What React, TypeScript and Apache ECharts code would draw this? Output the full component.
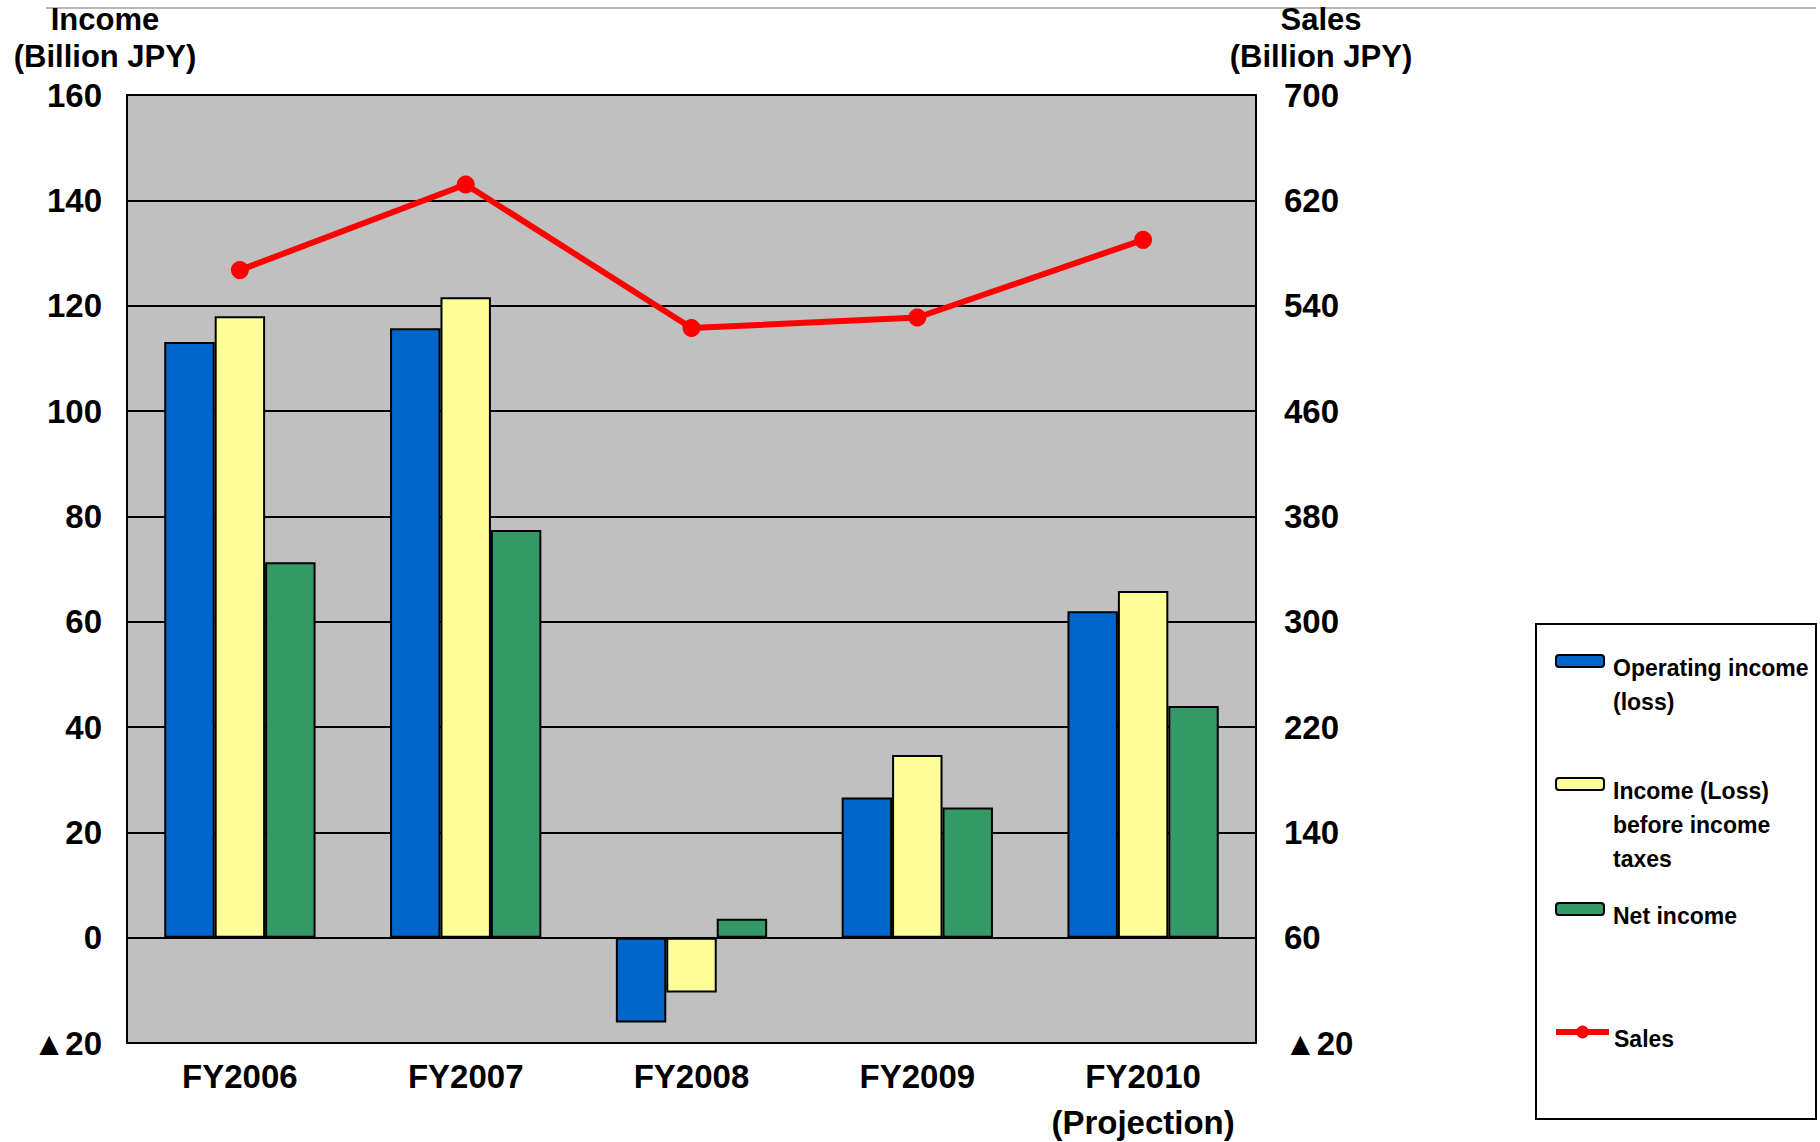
import React, { useEffect, useRef } from "react";
import * as echarts from "echarts";

const categories = ["FY2006", "FY2007", "FY2008", "FY2009", "FY2010\n(Projection)"];
const operatingIncome = [113.1, 115.7, -16.1, 26.6, 62.0];
const incomeBeforeTaxes = [118.0, 121.6, -10.4, 34.7, 65.8];
const netIncome = [71.3, 77.4, 3.6, 24.7, 44.0];
const sales = [567, 632, 523, 531, 590];
const salesTicks = [-20, 60, 140, 220, 300, 380, 460, 540, 620, 700];

const seriesNames = [
  "Operating income\n(loss)",
  "Income (Loss)\nbefore income\ntaxes",
  "Net income",
  "Sales",
];

const FONT = "'Liberation Sans', Arial, sans-serif";
const fmtNeg = (v: number) => (v < 0 ? "\u25B2" + Math.abs(v) : String(v));
const LH = 34;
const OFF = 7;

export default function App() {
  const ref = useRef<HTMLDivElement>(null);
  useEffect(() => {
    if (!ref.current) return;
    const chart = echarts.init(ref.current, undefined, { renderer: "svg" });
    const legendCenters = [661, 784, 909, 1032];
    const legends = seriesNames.map((name, i) => {
      const lines = name.split("\n");
      const n = lines.length;
      const gap = 2 * OFF + (n - 1) * LH;
      const isLine = i === 3;
      return {
        data: [name],
        orient: "vertical" as const,
        left: isLine ? 1553 : 1555,
        top: legendCenters[i] - (gap + n * LH) / 2,
        padding: 0,
        itemWidth: isLine ? 53 : 48,
        itemHeight: isLine ? 16 : 12,
        selectedMode: false,
        formatter: () => "{g| }\n" + lines.map((l) => "{t|" + l + "}").join("\n"),
        textStyle: {
          fontFamily: FONT,
          fontSize: 23,
          fontWeight: "bold" as const,
          color: "#000",
          padding: [0, 0, 0, isLine ? 0 : 4],
          rich: {
            g: { fontSize: 1, lineHeight: gap, height: gap },
            t: {
              fontFamily: FONT,
              fontSize: 23,
              fontWeight: "bold",
              color: "#000",
              lineHeight: LH,
              height: LH,
            },
          },
        },
        lineStyle: isLine ? { width: 6, color: "#FF0000" } : undefined,
        z: 10,
      };
    });
    const barStyle = (color: string) => ({
      color,
      borderColor: "#000",
      borderWidth: 2,
    });
    chart.setOption({
      animation: false,
      backgroundColor: "#fff",
      grid: {
        left: 127,
        top: 95,
        width: 1129,
        height: 948,
        show: true,
        backgroundColor: "#C0C0C0",
        borderColor: "#909090",
        borderWidth: 2,
        containLabel: false,
        outerBoundsMode: "none",
      },
      legend: legends,
      graphic: [
        {
          type: "line",
          shape: { x1: 46, y1: 8, x2: 1816, y2: 8 },
          style: { stroke: "#a0a0a0", lineWidth: 1.5 },
        },
        {
          type: "rect",
          z: 0,
          shape: { x: 1536, y: 624, width: 280, height: 495 },
          style: { fill: "#fff", stroke: "#000", lineWidth: 2 },
        },
      ],
      xAxis: {
        type: "category",
        data: categories,
        axisLine: { show: false, onZero: false },
        axisTick: { show: false },
        axisLabel: {
          interval: 0,
          fontFamily: FONT,
          fontSize: 33,
          fontWeight: "bold",
          color: "#000",
          lineHeight: 46,
          margin: 10,
        },
      },
      yAxis: [
        {
          type: "value",
          min: -20,
          max: 160,
          interval: 20,
          name: "Income\n(Billion JPY)",
          nameLocation: "end",
          nameGap: 20,
          nameTextStyle: {
            fontFamily: FONT,
            fontSize: 31,
            fontWeight: "bold",
            color: "#000",
            lineHeight: 37,
            align: "center",
            padding: [0, 44, 0, 0],
          },
          axisLine: { show: true, lineStyle: { color: "#000", width: 2 } },
          axisTick: { show: true, inside: true, length: 7, lineStyle: { color: "#000", width: 2 } },
          splitLine: { show: true, lineStyle: { color: "#000", width: 2 } },
          axisLabel: {
            fontFamily: FONT,
            fontSize: 33,
            fontWeight: "bold",
            color: "#000",
            margin: 25,
            formatter: fmtNeg,
          },
        },
        {
          type: "value",
          min: -20,
          max: 700,
          position: "right",
          name: "Sales\n(Billion JPY)",
          nameLocation: "end",
          nameGap: 20,
          nameTextStyle: {
            fontFamily: FONT,
            fontSize: 31,
            fontWeight: "bold",
            color: "#000",
            lineHeight: 37,
            align: "center",
            padding: [0, 0, 0, 130],
          },
          axisLine: { show: true, lineStyle: { color: "#000", width: 2 } },
          axisTick: {
            show: true,
            inside: true,
            length: 7,
            customValues: salesTicks,
            lineStyle: { color: "#000", width: 2 },
          },
          splitLine: { show: false },
          axisLabel: {
            fontFamily: FONT,
            fontSize: 33,
            fontWeight: "bold",
            color: "#000",
            margin: 28,
            customValues: salesTicks,
            formatter: fmtNeg,
          },
        },
      ],
      series: [
        {
          name: seriesNames[0],
          type: "bar",
          data: operatingIncome,
          barGap: "0%",
          barCategoryGap: "33%",
          itemStyle: barStyle("#0066CC"),
        },
        {
          name: seriesNames[1],
          type: "bar",
          data: incomeBeforeTaxes,
          barGap: "0%",
          barCategoryGap: "33%",
          itemStyle: barStyle("#FFFF99"),
        },
        {
          name: seriesNames[2],
          type: "bar",
          data: netIncome,
          barGap: "0%",
          barCategoryGap: "33%",
          itemStyle: barStyle("#339966"),
        },
        {
          name: seriesNames[3],
          type: "line",
          yAxisIndex: 1,
          data: sales,
          symbol: "circle",
          symbolSize: 18,
          lineStyle: { color: "#FF0000", width: 6 },
          itemStyle: { color: "#FF0000" },
          z: 5,
        },
      ],
    });
    return () => chart.dispose();
  }, []);
  return (
    <div
      ref={ref}
      style={{ position: "absolute", left: 0, top: 0, width: 1820, height: 1142 }}
    />
  );
}
